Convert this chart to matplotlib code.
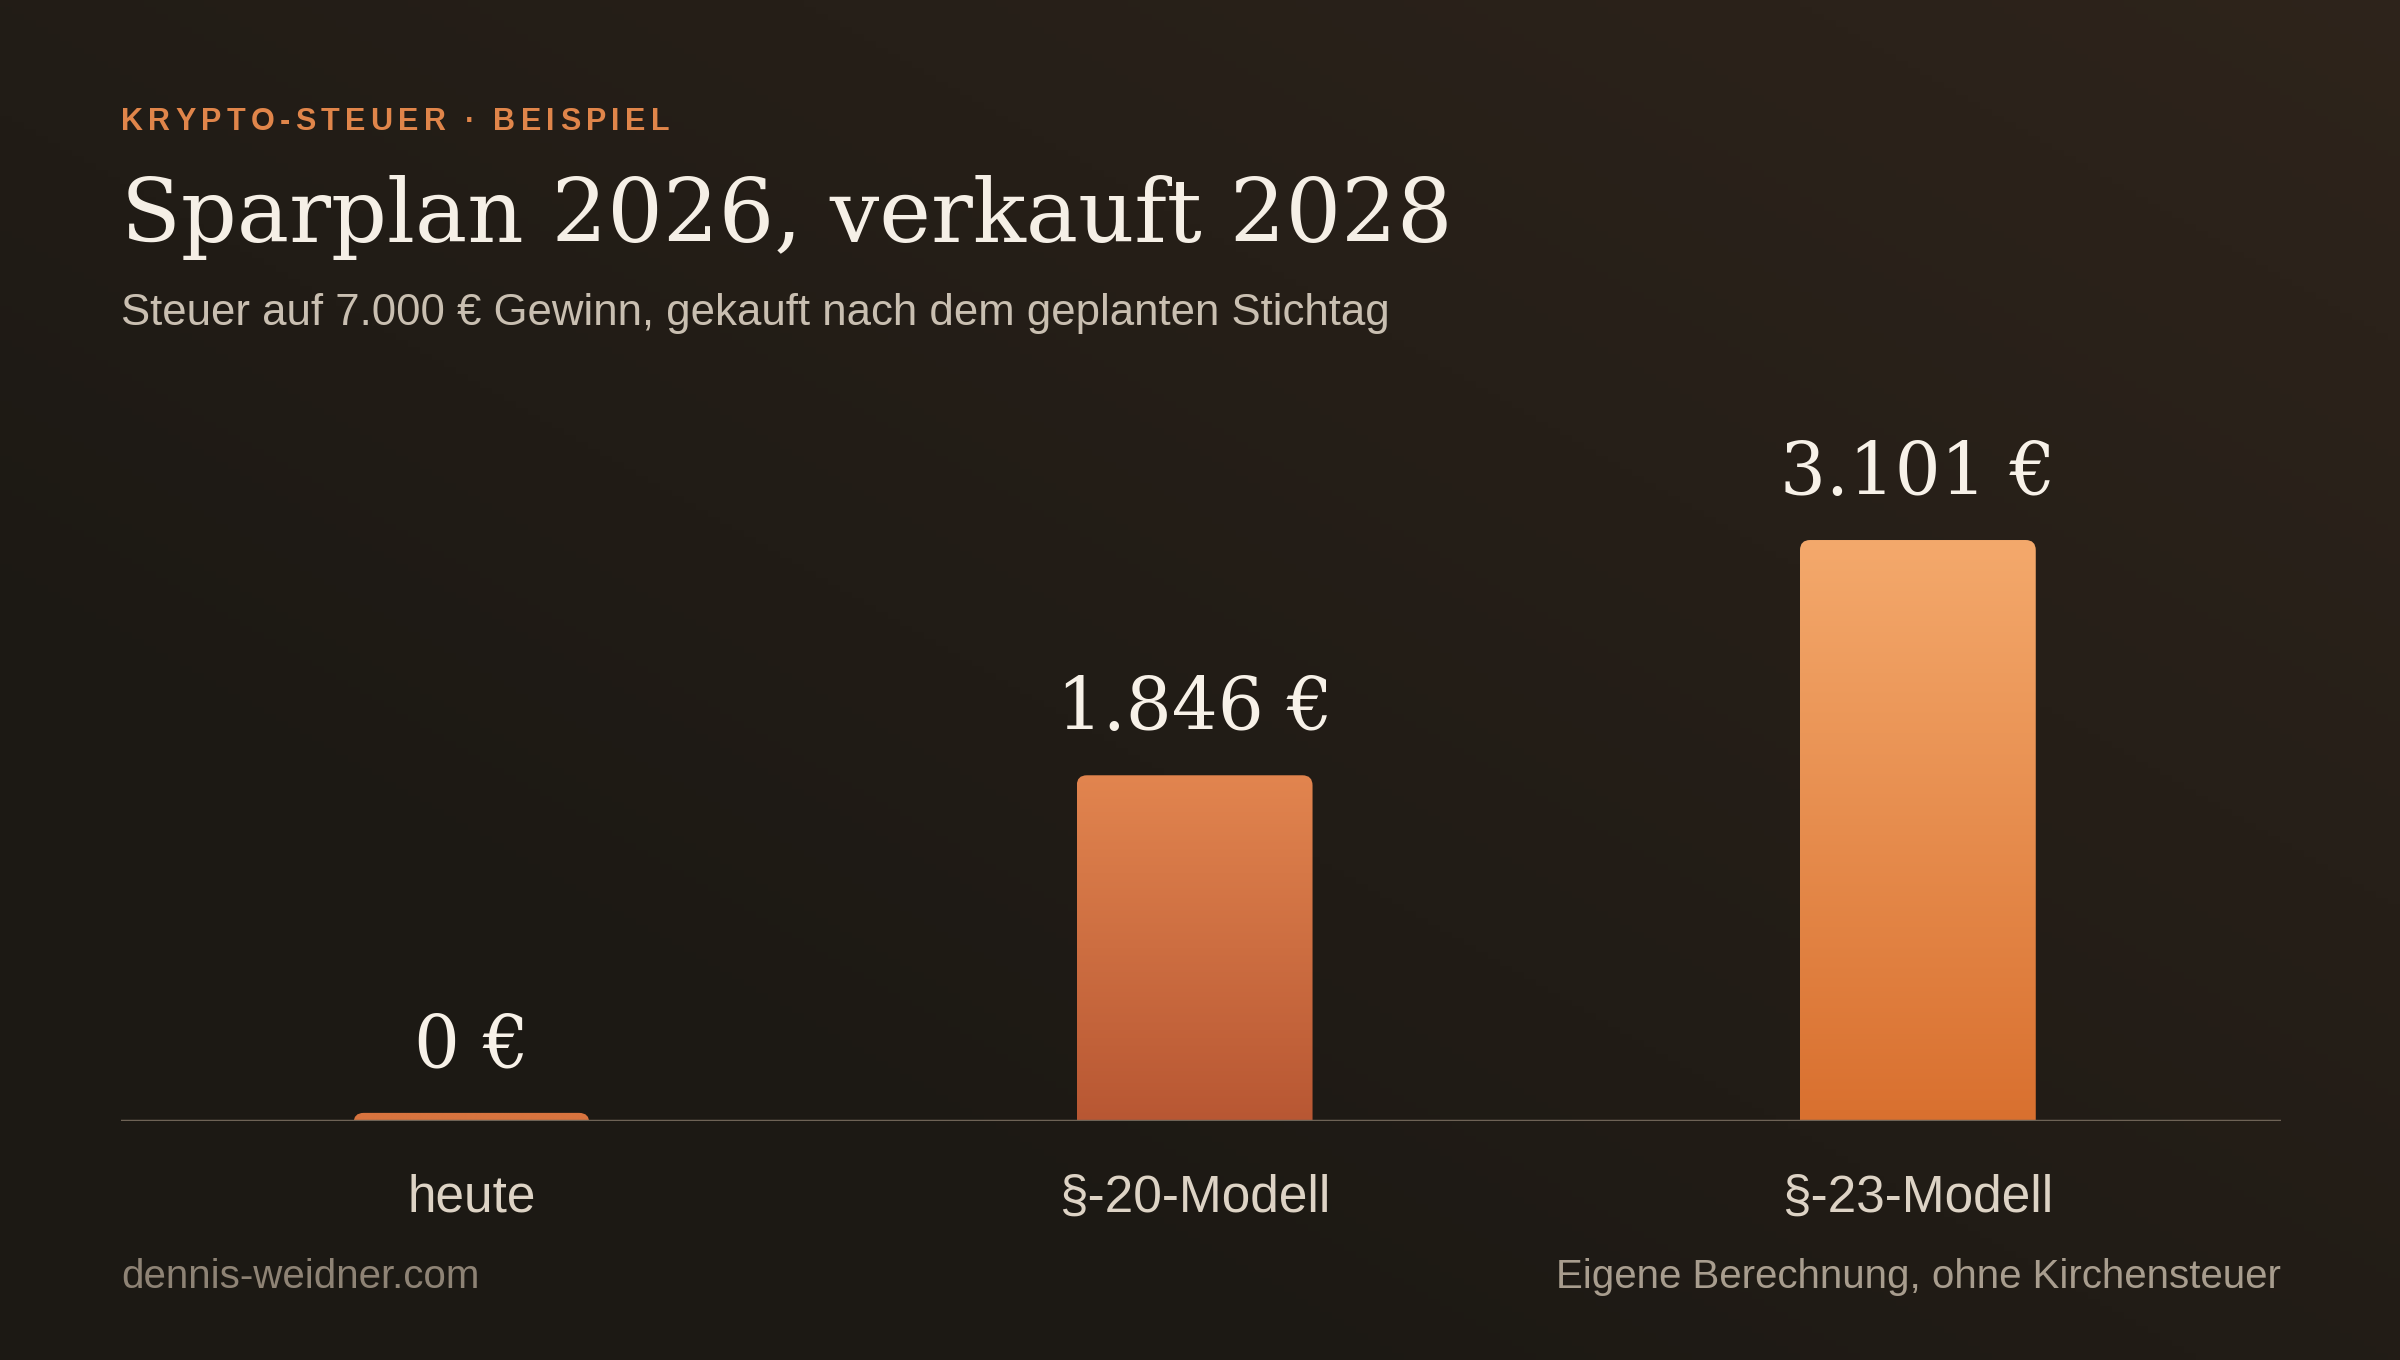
import matplotlib
matplotlib.use("Agg")
import matplotlib.pyplot as plt
import numpy as np
from matplotlib.patches import FancyBboxPatch
from matplotlib.colors import LinearSegmentedColormap

categories = ["heute", "§-20-Modell", "§-23-Modell"]
values = [0, 1846, 3101]
value_labels = ["0 €", "1.846 €", "3.101 €"]
bar_tops = ["#d8743f", "#e2854f", "#f4a96c"]
bar_bottoms = ["#d8743f", "#b85733", "#d9702f"]
kicker = "KRYPTO-STEUER · BEISPIEL"

SANS = ["Liberation Sans", "DejaVu Sans"]
SERIF = ["DejaVu Serif"]

fig = plt.figure(figsize=(24, 13.6), dpi=100)

# background gradient
bg = fig.add_axes([0, 0, 1, 1])
yy, xx = np.mgrid[0:1:200j, 0:1:200j]
t = np.clip(0.6 * xx + 0.6 * yy - 0.3, 0, 1)
c0 = np.array([0x1c, 0x19, 0x14]) / 255
c1 = np.array([0x30, 0x25, 0x1c]) / 255
img = c0 + (c1 - c0) * t[..., None]
bg.imshow(img, extent=[0, 1, 0, 1], origin="lower", aspect="auto")
bg.axis("off")

ax = fig.add_axes([0.0504, 0.1755, 0.9503 - 0.0504, 0.75 - 0.1755])
ax.set_xlim(-0.4846, 2.5017)
ax.set_ylim(0, 4168)
ax.axis("off")

width = 0.326
min_h = 45
aspect = 3854
for i, v in enumerate(values):
    h = max(v, min_h)
    patch = FancyBboxPatch((i - width / 2, -60), width, h + 60,
                           boxstyle="round,pad=0,rounding_size=0.014",
                           mutation_aspect=aspect, facecolor="none",
                           edgecolor="none")
    ax.add_patch(patch)
    cmap = LinearSegmentedColormap.from_list("g", [bar_bottoms[i], bar_tops[i]])
    grad = np.linspace(0, 1, 256).reshape(-1, 1)
    im = ax.imshow(grad, cmap=cmap, origin="lower", aspect="auto",
                   extent=[i - width / 2, i + width / 2, 0, h])
    im.set_clip_path(patch)
    ax.text(i, h + 160, value_labels[i], ha="center", va="bottom",
            fontsize=52, color="#f7f1e8", family=SERIF)
    ax.text(i, -280, categories[i], ha="center", va="top",
            fontsize=37, color="#ddd3c5", family=SANS, clip_on=False)

ax.axhline(0, color="#6e6356", lw=2.5, xmin=0, xmax=1)
ax.set_xlim(-0.4846, 2.5017)

# kicker with letter spacing
renderer = fig.canvas.get_renderer()
x = 0.0504
spacing = 0.0022
for ch in kicker:
    txt = fig.text(x, 1 - 80 / 889, ch, fontsize=22, fontweight="bold",
                   color="#e0854a", family=SANS, va="center")
    w = txt.get_window_extent(renderer).width / fig.bbox.width
    if ch == " ":
        w = 0.0035
    x += w + spacing

fig.text(0.0504, 1 - 142 / 889, "Sparplan 2026, verkauft 2028", fontsize=63,
         color="#f5efe6", family=SERIF, va="center")
fig.text(0.0504, 1 - 205 / 889, "Steuer auf 7.000 € Gewinn, gekauft nach dem geplanten Stichtag",
         fontsize=31.5, color="#c9bfb1", family=SANS, va="center")
fig.text(0.0504, 1 - 835 / 889, "dennis-weidner.com", fontsize=29,
         color="#8e8375", family=SANS, va="center")
fig.text(0.9503, 1 - 835 / 889, "Eigene Berechnung, ohne Kirchensteuer", fontsize=29,
         color="#a89d8e", family=SANS, va="center", ha="right")

fig.savefig("out.png", dpi=100)
